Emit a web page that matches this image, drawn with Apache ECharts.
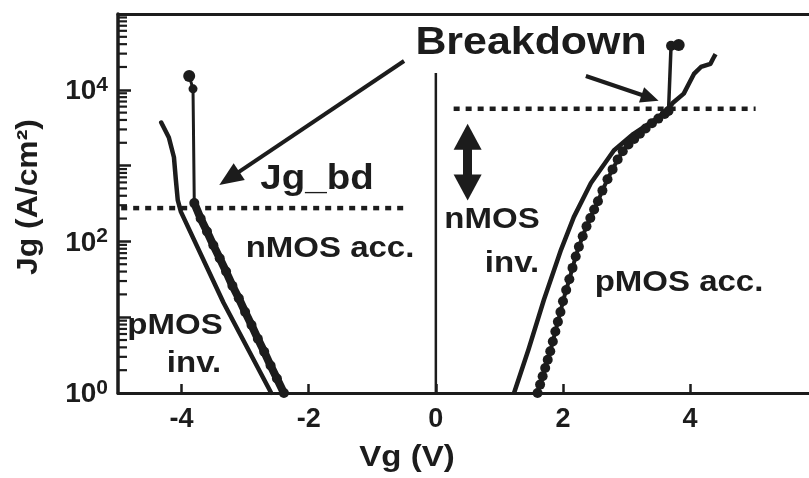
<!DOCTYPE html>
<html>
<head>
<meta charset="utf-8">
<script src="https://cdn.jsdelivr.net/npm/echarts@6/dist/echarts.min.js"></script>
<style>html,body{margin:0;padding:0;background:#fff}#c{width:809px;height:478px}</style>
</head>
<body>
<div id="c"></div>
<script>
// ---- axis ticks ----
const vgTicks = [-4, -2, 0, 2, 4];
const jgMinorTicks = [2,3,4,5,6,7,8,9, 20,30,40,50,60,70,80,90, 200,300,400,500,600,700,800,900,
  2000,3000,4000,5000,6000,7000,8000,9000, 20000,30000,40000,50000,60000,70000,80000,90000];

// ---- pMOS inversion (negative Vg, plain line) ----
const pInvVg = [-4.32, -4.20, -4.12, -4.09, -4.06, -4.01, -3.34, -2.59];
const pInvJg = [3700, 2350, 1290, 650, 350, 245, 15.5, 1];

// ---- nMOS accumulation (negative Vg, markers) ----
const nAccBreakVg = [-3.88, -3.82, -3.80];
const nAccBreakJg = [15200, 10300, 320];
const nAccVg = [-3.80, -3.70, -3.60, -3.50, -3.40, -3.30, -3.20, -3.10, -3.00, -2.90, -2.80, -2.70, -2.60, -2.50, -2.39];
const nAccJg = [320, 200, 135, 89, 60, 40, 26, 17.8, 11.7, 7.9, 5.2, 3.5, 2.3, 1.55, 1];

// ---- nMOS inversion (positive Vg, plain line) ----
const nInvVg = [1.23, 1.46, 1.70, 1.97, 2.17, 2.44, 2.80, 3.11, 3.49, 3.66, 3.73, 3.90, 3.98, 4.06, 4.17, 4.32, 4.36, 4.40];
const nInvJg = [1, 3.8, 17, 78, 209, 589, 1585, 2630, 4266, 5623, 6760, 8900, 12000, 16200, 20000, 22000, 25700, 29500];

// ---- pMOS accumulation (positive Vg, markers) ----
const pAccVg = [1.60,1.64,1.68,1.72,1.76,1.80,1.84,1.88,1.92,1.96,2.00,2.05,2.10,2.15,2.20,2.25,2.31,2.37,2.43,2.49,
  2.55,2.62,2.70,2.78,2.86,2.94,3.03,3.12,3.21,3.30,3.40,3.50,3.60,3.66];
const pAccJg = [1,1.29,1.66,2.14,2.75,3.55,4.79,6.46,8.71,11.7,16.2,22.9,31.6,44.7,63.1,85.1,117,158,204,263,
  339,468,661,891,1202,1549,1905,2239,2630,3090,3631,4169,4786,5248];
const pAccBreakVg = [3.66, 3.70, 3.82];
const pAccBreakJg = [5250, 38000, 39000];

// ---- breakdown criteria (dotted) ----
const jgBdLeft = { vg: [-4.95, -0.47], jg: 275 };
const jgBdRight = { vg: [0.28, 5.03], jg: 5620 };
const zeroLineJg = [1, 16600];

// ---- annotation arrows (data coords) ----
const arrowBreakLeft = [[-0.50, 24000], [-3.25, 680]];
const arrowBreakRight = [[2.36, 15200], [3.37, 7850]];
const arrowDouble = [[0.50, 2400], [0.50, 516]];

const zip = (xs, ys) => xs.map((x, i) => [x, ys[i]]);
const INK = '#1c1c1c';
const FONT = '"Liberation Sans", Arial, Helvetica, sans-serif';

const chart = echarts.init(document.getElementById('c'));

function txt(text, x, y, size, extra) {
  return Object.assign({
    type: 'text', x: x, y: y, scaleX: 1.1, silent: true,
    style: { text: text, fill: INK, font: 'bold ' + size + 'px ' + FONT, textAlign: 'center', textVerticalAlign: 'middle' }
  }, extra || {});
}

chart.setOption({
  animation: false,
  backgroundColor: '#fff',
  grid: { left: 118, right: 0, top: 14, bottom: 85, show: false },
  xAxis: [{
    type: 'value', min: -5, max: 5.87,
    axisLine: { show: true, onZero: false, lineStyle: { color: INK, width: 3 } },
    axisTick: { show: true, inside: true, length: 9, customValues: vgTicks, lineStyle: { color: INK, width: 2.5 } },
    axisLabel: { customValues: vgTicks, margin: 13, color: INK, fontSize: 27, fontWeight: 'bold', fontFamily: FONT },
    splitLine: { show: false }
  }, {
    type: 'value', position: 'top', min: -5, max: 5.87,
    axisLine: { show: true, onZero: false, lineStyle: { color: INK, width: 3 } },
    axisTick: { show: false }, axisLabel: { show: false }, splitLine: { show: false }
  }],
  yAxis: {
    type: 'log', logBase: 10, min: 1, max: 100000,
    axisLine: { show: true, onZero: false, lineStyle: { color: INK, width: 3.5 } },
    axisTick: { show: true, inside: true, length: 13, lineStyle: { color: INK, width: 2.5 } },
    axisLabel: {
      margin: 10, color: INK, fontFamily: FONT,
      formatter: function (v) {
        const e = Math.round(Math.log10(v));
        if (e % 2 !== 0 || e > 4) return '';
        return '{b|10}{s|' + e + '}';
      },
      rich: {
        b: { fontSize: 28, fontWeight: 'bold', fontFamily: FONT, color: INK, verticalAlign: 'bottom', padding: [3, 0, 0, 0] },
        s: { fontSize: 21, fontWeight: 'bold', fontFamily: FONT, color: INK, verticalAlign: 'top' }
      }
    },
    splitLine: { show: false }
  },
  series: [
    {
      type: 'custom', silent: true, clip: false,
      data: jgMinorTicks.map(v => [-5, v]),
      renderItem: function (params, api) {
        const p = api.coord([api.value(0), api.value(1)]);
        return { type: 'line', shape: { x1: p[0], y1: p[1], x2: p[0] + 9, y2: p[1] }, style: { stroke: INK, lineWidth: 2.2 } };
      }
    },
    { type: 'line', data: [[0, zeroLineJg[0]], [0, zeroLineJg[1]]], symbol: 'none', lineStyle: { color: INK, width: 2.5 }, silent: true },
    { type: 'line', data: jgBdLeft.vg.map(v => [v, jgBdLeft.jg]), symbol: 'none', lineStyle: { color: INK, width: 4.5, type: [6, 6] }, silent: true },
    { type: 'line', data: jgBdRight.vg.map(v => [v, jgBdRight.jg]), symbol: 'none', lineStyle: { color: INK, width: 4.5, type: [6, 6] }, silent: true },
    { type: 'line', data: zip(pInvVg, pInvJg), symbol: 'none', lineStyle: { color: INK, width: 4.5, cap: 'round', join: 'round' } },
    { type: 'line', data: zip(nAccBreakVg, nAccBreakJg), symbol: 'circle',
      symbolSize: function (v, p) { return p.dataIndex === 0 ? 12 : (p.dataIndex === 1 ? 9 : 0); },
      itemStyle: { color: INK }, lineStyle: { color: INK, width: 3 } },
    { type: 'line', data: zip(nAccVg, nAccJg), symbol: 'circle', symbolSize: 10, itemStyle: { color: INK },
      lineStyle: { color: INK, width: 8 } },
    { type: 'line', data: zip(nInvVg, nInvJg), symbol: 'none', lineStyle: { color: INK, width: 4.5, join: 'round' } },
    { type: 'line', data: zip(pAccVg, pAccJg), symbol: 'circle', symbolSize: 10, itemStyle: { color: INK },
      lineStyle: { color: INK, width: 4 } },
    { type: 'line', data: zip(pAccBreakVg, pAccBreakJg), symbol: 'circle',
      symbolSize: function (v, p) { return p.dataIndex === 0 ? 0 : (p.dataIndex === 1 ? 10 : 12); },
      itemStyle: { color: INK }, lineStyle: { color: INK, width: 3.5 },
      markLine: {
        silent: true, animation: false, label: { show: false }, emphasis: { disabled: true },
        data: [
          [{ coord: arrowBreakLeft[0], symbol: 'none', lineStyle: { color: INK, width: 4, type: 'solid' } },
           { coord: arrowBreakLeft[1], symbol: 'triangle', symbolSize: [20, 24] }],
          [{ coord: arrowBreakRight[0], symbol: 'none', lineStyle: { color: INK, width: 4, type: 'solid' } },
           { coord: arrowBreakRight[1], symbol: 'triangle', symbolSize: [16, 18] }],
          [{ coord: arrowDouble[0], symbol: 'triangle', symbolSize: [28, 26], lineStyle: { color: INK, width: 9, type: 'solid' } },
           { coord: arrowDouble[1], symbol: 'triangle', symbolSize: [28, 26] }]
        ],
        itemStyle: { color: INK }
      }
    }
  ],
  graphic: [
    txt('Breakdown', 531, 43, 39),
    txt('Jg_bd', 317, 179, 35),
    txt('nMOS acc.', 330, 249, 30),
    txt('pMOS', 175, 326, 30),
    txt('inv.', 194, 364, 30),
    txt('nMOS', 492, 220, 30),
    txt('inv.', 512, 264, 30),
    txt('pMOS acc.', 679, 283, 30),
    txt('Vg (V)', 407, 458, 30),
    txt('Jg (A/cm²)', 29, 197, 29, { rotation: Math.PI / 2 })
  ]
});
</script>
</body>
</html>
